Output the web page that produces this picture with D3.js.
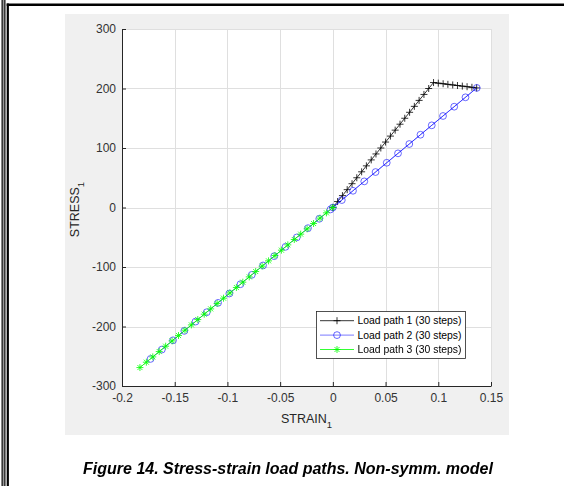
<!DOCTYPE html>
<html><head><meta charset="utf-8">
<script src="https://cdn.jsdelivr.net/npm/d3@7"></script>
<style>
html,body{margin:0;padding:0;background:#fff;}
svg{display:block;font-family:"Liberation Sans",Arial,sans-serif;}
</style></head>
<body>
<svg id="chart" width="564" height="486"></svg>
<script>
// ---- data ----
const xTicks = [-0.2, -0.15, -0.1, -0.05, 0, 0.05, 0.1, 0.15];
const yTicks = [-300, -200, -100, 0, 100, 200, 300];
const xTickLabels = ["-0.2", "-0.15", "-0.1", "-0.05", "0", "0.05", "0.1", "0.15"];
const yTickLabels = ["-300", "-200", "-100", "0", "100", "200", "300"];
const seriesNames = ["Load path 1 (30 steps)", "Load path 2 (30 steps)", "Load path 3 (30 steps)"];

const path1Strain = [0, 0.0045, 0.0091, 0.0136, 0.0182, 0.0227, 0.0273, 0.0318, 0.0364, 0.0409, 0.0455,
  0.0500, 0.0546, 0.0591, 0.0637, 0.0682, 0.0728, 0.0773, 0.0818, 0.0864, 0.0909, 0.0955,
  0.1000, 0.1046, 0.1091, 0.1137, 0.1182, 0.1228, 0.1273, 0.1319, 0.1364];
const path1Stress = [0, 10, 20, 30, 40, 50, 60, 70, 80, 90, 100,
  110, 120, 130, 140, 150, 160, 170, 180, 190, 200, 210,
  209, 208, 207, 206, 205, 204, 203, 202, 201];

const path2Strain = [0, 0.1365, 0.1258, 0.1151, 0.1045, 0.0938, 0.0831, 0.0725, 0.0618, 0.0511, 0.0405,
  0.0298, 0.0191, 0.0085, -0.0022, -0.0129, -0.0236, -0.0342, -0.0449, -0.0556, -0.0662,
  -0.0769, -0.0876, -0.0982, -0.1089, -0.1196, -0.1302, -0.1409, -0.1516, -0.1622, -0.1729];
const path2Stress = [0, 201, 185.2, 169.4, 153.8, 138.1, 122.3, 106.7, 91.0, 75.2, 59.6,
  43.9, 28.1, 12.5, -3.2, -19.0, -34.7, -50.3, -66.1, -81.8, -97.4,
  -113.2, -128.9, -144.6, -160.3, -176.0, -191.7, -207.4, -223.2, -238.8, -254.5];

const path3Strain = [0, -0.0061, -0.0122, -0.0183, -0.0244, -0.0305, -0.0366, -0.0427, -0.0488, -0.0549, -0.0610,
  -0.0671, -0.0732, -0.0793, -0.0854, -0.0915, -0.0976, -0.1037, -0.1098, -0.1159, -0.1220,
  -0.1281, -0.1342, -0.1403, -0.1464, -0.1525, -0.1586, -0.1647, -0.1708, -0.1769, -0.1830];
const path3Stress = [0, -9.0, -17.9, -26.9, -35.9, -44.8, -53.8, -62.8, -71.7, -80.7, -89.7,
  -98.6, -107.6, -116.6, -125.5, -134.5, -143.5, -152.4, -161.4, -170.4, -179.3,
  -188.3, -197.3, -206.2, -215.2, -224.2, -233.1, -242.1, -251.1, -260.0, -269.0];

const caption = "Figure 14. Stress-strain load paths. Non-symm. model";

// ---- drawing ----
const svg = d3.select("#chart");

// page borders
svg.append("rect").attr("x", 1.5).attr("y", 0).attr("width", 4).attr("height", 486).attr("fill", "#111");
svg.append("rect").attr("x", 2.7).attr("y", 0).attr("width", 1.6).attr("height", 486).attr("fill", "#999");
svg.append("rect").attr("x", 6.7).attr("y", 3.5).attr("width", 2.2).attr("height", 482.5).attr("fill", "#000");
svg.append("rect").attr("x", 6.7).attr("y", 3.5).attr("width", 557.3).attr("height", 2.5).attr("fill", "#000");

// figure panel
svg.append("rect").attr("x", 65).attr("y", 14).attr("width", 444).attr("height", 421).attr("fill", "#f0f0f0");

const L = 122, R = 491, T = 29, B = 386;
const x = d3.scaleLinear().domain([-0.2, 0.15]).range([L, R]);
const y = d3.scaleLinear().domain([-300, 300]).range([B, T]);

svg.append("rect").attr("x", L).attr("y", T).attr("width", R - L).attr("height", B - T).attr("fill", "#fff");

// grid
const grid = svg.append("g").attr("stroke", "#dfdfdf").attr("stroke-width", 1).attr("shape-rendering", "crispEdges");
grid.selectAll("line.gx").data(xTicks).join("line")
  .attr("x1", d => Math.round(x(d)) + 0.5).attr("x2", d => Math.round(x(d)) + 0.5)
  .attr("y1", T).attr("y2", B);
grid.selectAll("line.gy").data(yTicks).join("line")
  .attr("y1", d => Math.round(y(d)) + 0.5).attr("y2", d => Math.round(y(d)) + 0.5)
  .attr("x1", L).attr("x2", R);

// axes
const xAxis = d3.axisBottom(x).tickValues(xTicks).tickFormat((d, i) => xTickLabels[i])
  .tickSizeInner(-4).tickSizeOuter(0).tickPadding(8);
const yAxis = d3.axisLeft(y).tickValues(yTicks).tickFormat((d, i) => yTickLabels[i])
  .tickSizeInner(-4).tickSizeOuter(0).tickPadding(6);

const gx = svg.append("g").attr("transform", `translate(0,${B})`).call(xAxis);
const gy = svg.append("g").attr("transform", `translate(${L},0)`).call(yAxis);
[gx, gy].forEach(g => {
  g.select(".domain").attr("stroke", "#262626");
  g.selectAll(".tick line").attr("stroke", "#262626");
  g.selectAll(".tick text").attr("fill", "#333").attr("font-size", "12px")
    .attr("font-family", '"Liberation Sans",Arial,sans-serif');
});
gx.selectAll(".tick text").attr("dy", "0.68em");

// axis labels
const xl = svg.append("text").attr("x", (L + R) / 2).attr("y", 423).attr("text-anchor", "middle")
  .attr("font-size", "12.5px").attr("fill", "#262626");
xl.append("tspan").text("STRAIN");
xl.append("tspan").attr("font-size", "9.5px").attr("dy", 5).text("1");

const yl = svg.append("text").attr("transform", `translate(79,${(T + B) / 2 + 2}) rotate(-90)`)
  .attr("text-anchor", "middle").attr("font-size", "12.5px").attr("fill", "#262626");
yl.append("tspan").text("STRESS");
yl.append("tspan").attr("font-size", "9.5px").attr("dy", 5).text("1");

// markers
const plusPath = "M-3.5,0H3.5M0,-3.5V3.5";
const starPath = "M-3.5,0H3.5M0,-3.5V3.5M-2.5,-2.5L2.5,2.5M-2.5,2.5L2.5,-2.5";

const series = [
  {name: seriesNames[0], xs: path1Strain, ys: path1Stress, color: "#000000", marker: "plus", lw: 0.8},
  {name: seriesNames[1], xs: path2Strain, ys: path2Stress, color: "#0000ff", marker: "circle", lw: 0.7},
  {name: seriesNames[2], xs: path3Strain, ys: path3Stress, color: "#00ff00", marker: "star", lw: 0.8}
];

const line = d3.line().x(d => x(d[0])).y(d => y(d[1]));

function drawMarker(g, m, color) {
  if (m === "circle") {
    g.append("circle").attr("r", 3.4).attr("fill", "none").attr("stroke", color).attr("stroke-width", 0.8);
  } else {
    g.append("path").attr("d", m === "plus" ? plusPath : starPath).attr("fill", "none")
      .attr("stroke", color).attr("stroke-width", 0.8);
  }
}

const plot = svg.append("g");
series.forEach(s => {
  const pts = s.xs.map((v, i) => [v, s.ys[i]]);
  plot.append("path").datum(pts).attr("d", line).attr("fill", "none")
    .attr("stroke", s.color).attr("stroke-width", s.lw).attr("opacity", s.marker === "circle" ? 0.75 : 1);
  const mg = plot.append("g").attr("opacity", s.marker === "circle" ? 0.75 : 1);
  pts.forEach(p => {
    const g = mg.append("g").attr("transform", `translate(${x(p[0])},${y(p[1])})`);
    drawMarker(g, s.marker, s.color);
  });
});

// legend
const lg = svg.append("g");
lg.append("rect").attr("x", 316.5).attr("y", 311.5).attr("width", 149).attr("height", 47)
  .attr("fill", "#fff").attr("stroke", "#262626").attr("stroke-width", 0.8);
series.forEach((s, i) => {
  const cy = 320.7 + i * 14.4;
  lg.append("line").attr("x1", 320).attr("x2", 354).attr("y1", cy).attr("y2", cy)
    .attr("stroke", s.color).attr("stroke-width", s.lw).attr("opacity", s.marker === "circle" ? 0.75 : 1);
  const g = lg.append("g").attr("transform", `translate(337,${cy})`).attr("opacity", s.marker === "circle" ? 0.75 : 1);
  drawMarker(g, s.marker, s.color);
  lg.append("text").attr("x", 357.5).attr("y", cy).attr("dy", "0.35em")
    .attr("font-size", "10.4px").attr("fill", "#000").text(s.name);
});

// caption
svg.append("text").attr("x", 288).attr("y", 474).attr("text-anchor", "middle")
  .attr("font-size", "16px").attr("font-weight", "bold").attr("font-style", "italic")
  .attr("fill", "#000").text(caption);
</script>
</body></html>
